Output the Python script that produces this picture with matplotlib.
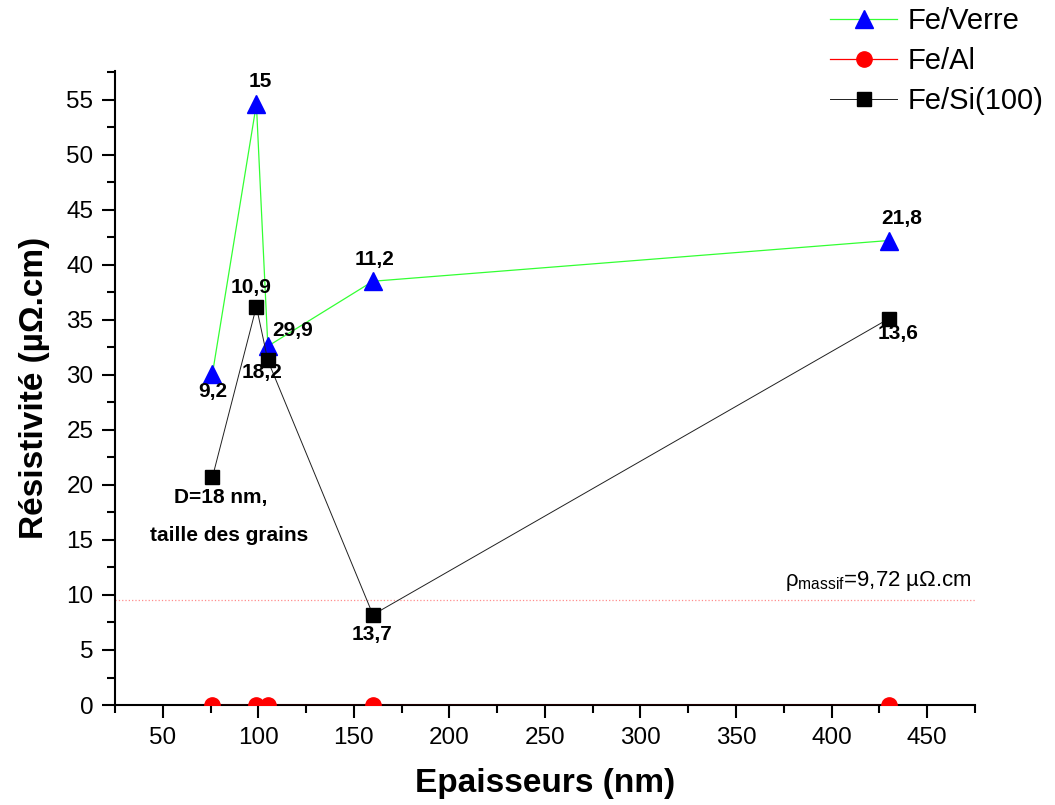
import numpy as np
import matplotlib
matplotlib.use("Agg")
import matplotlib.pyplot as plt
from matplotlib.ticker import MultipleLocator

plt.rcParams['font.family'] = ['Liberation Sans', 'DejaVu Sans']
plt.rcParams['mathtext.fontset'] = 'custom'
plt.rcParams['mathtext.rm'] = 'Liberation Sans'
plt.rcParams['mathtext.it'] = 'Liberation Sans:italic'

# data
epaisseur = [76, 99, 105, 160, 430]
rho_verre = [30.1, 54.6, 32.6, 38.5, 42.2]
rho_al = [0, 0, 0, 0, 0]
rho_si = [20.7, 36.2, 31.3, 8.2, 35.1]
rho_massif = 9.5

# grain sizes (nm) written next to the points
lab_verre = ['9,2', '15', '29,9', '11,2', '21,8']
off_verre = [(0, -13), (3, 16), (18, 11), (1, 16), (9, 16)]
lab_si = ['', '10,9', '18,2', '13,7', '13,6']
off_si = [(0, 0), (-4, 14), (-4, -9), (-1, -14), (7, -11)]

fig = plt.figure(figsize=(10.55, 8.05), dpi=100)
ax = fig.add_axes([0.109, 0.1242, 0.815, 0.7876])

ax.axhline(rho_massif, color='#ff8c8c', ls=':', lw=0.9, zorder=1)

ax.plot(epaisseur, rho_verre, color='#33ff33', lw=0.9, marker='^', ms=13,
        mfc='#0000ff', mec='#0000ff', label='Fe/Verre', zorder=3)
ax.plot(epaisseur, rho_al, color='#ff0000', lw=0.9, marker='o', ms=11,
        mfc='#ff0000', mec='#ff0000', label='Fe/Al', zorder=3)
ax.plot(epaisseur, rho_si, color='#202020', lw=0.7, marker='s', ms=9.5,
        mfc='black', mec='black', label='Fe/Si(100)', zorder=3)

for x, y, t, o in zip(epaisseur, rho_verre, lab_verre, off_verre):
    ax.annotate(t, (x, y), xytext=o, textcoords='offset points', ha='center',
                va='center', fontsize=15, fontweight='bold')
for x, y, t, o in zip(epaisseur, rho_si, lab_si, off_si):
    if t:
        ax.annotate(t, (x, y), xytext=o, textcoords='offset points', ha='center',
                    va='center', fontsize=15, fontweight='bold')

ax.annotate('D=18 nm,', (epaisseur[0], rho_si[0]), xytext=(6, -14.5),
            textcoords='offset points', ha='center', va='center',
            fontsize=15, fontweight='bold')
ax.annotate('taille des grains', (epaisseur[0], rho_si[0]), xytext=(12, -42),
            textcoords='offset points', ha='center', va='center',
            fontsize=15, fontweight='bold')

ax.text(473, 10.2, r'ρ$_{\mathrm{massif}}$=9,72 µΩ.cm', ha='right', va='bottom',
        fontsize=16)

ax.set_xlim(25, 475)
ax.set_ylim(0, 57.6)
ax.xaxis.set_major_locator(MultipleLocator(50))
ax.xaxis.set_minor_locator(MultipleLocator(25))
ax.yaxis.set_major_locator(MultipleLocator(5))
ax.yaxis.set_minor_locator(MultipleLocator(2.5))

ax.spines['top'].set_visible(False)
ax.spines['right'].set_visible(False)
for s in ['left', 'bottom']:
    ax.spines[s].set_linewidth(1.5)
ax.tick_params(which='major', direction='out', length=9.5, width=1.5,
               labelsize=17.5, pad=6)
ax.tick_params(which='minor', direction='out', length=5.5, width=1.5)

ax.set_xlabel('Epaisseurs (nm)', fontsize=24, fontweight='bold', labelpad=14)
ax.set_ylabel('Résistivité (µΩ.cm)', fontsize=24, fontweight='bold', labelpad=12)

ax.legend(loc='upper right', bbox_to_anchor=(1.0, 1.006),
          bbox_transform=fig.transFigure, frameon=False, fontsize=21,
          handlelength=2.3, handletextpad=0.35, labelspacing=0.42,
          borderaxespad=0.0)

fig.savefig('out.png', dpi=100)
